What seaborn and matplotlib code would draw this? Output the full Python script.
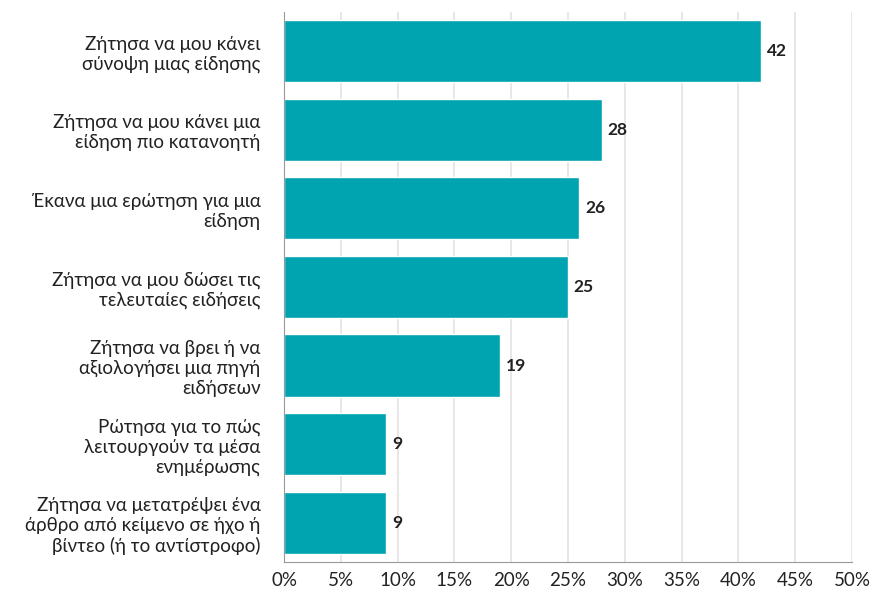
import pandas as pd
import matplotlib.pyplot as plt
import seaborn as sns
from matplotlib.ticker import PercentFormatter

# 데이터
labels = [
    "Ζήτησα να μου κάνει\nσύνοψη μιας είδησης",
    "Ζήτησα να μου κάνει μια\nείδηση πιο κατανοητή",
    "Έκανα μια ερώτηση για μια\nείδηση",
    "Ζήτησα να μου δώσει τις\nτελευταίες ειδήσεις",
    "Ζήτησα να βρει ή να\nαξιολογήσει μια πηγή\nειδήσεων",
    "Ρώτησα για το πώς\nλειτουργούν τα μέσα\nενημέρωσης",
    "Ζήτησα να μετατρέψει ένα\nάρθρο από κείμενο σε ήχο ή\nβίντεο (ή το αντίστροφο)",
]
values = [42, 28, 26, 25, 19, 9, 9]

df = pd.DataFrame({"label": labels, "value": values})

sns.set_style("white")
plt.rcParams["font.family"] = ["Lato", "DejaVu Sans"]

fig = plt.figure(figsize=(8.72, 5.91), dpi=100)
ax = fig.add_axes([0.3257, 0.049, 0.6513, 0.931])

sns.barplot(data=df, x="value", y="label", color="#00A3B0", width=0.79,
            saturation=1, ax=ax)

for i, v in enumerate(values):
    ax.text(v + 0.5, i, f"{v}", va="center", ha="left",
            fontsize=12.5, fontweight="bold", color="#222222")

ax.set_xlim(0, 50)
ax.set_ylim(6.5, -0.5)
ax.set_xticks(range(0, 51, 5))
ax.xaxis.set_major_formatter(PercentFormatter(decimals=0))
ax.grid(True, axis="x", color="#e3e3e3", linewidth=1.2)
ax.set_axisbelow(True)
ax.set_xlabel("")
ax.set_ylabel("")

for s in ["top", "right"]:
    ax.spines[s].set_visible(False)
ax.spines["left"].set_color("#999999")
ax.spines["bottom"].set_color("#999999")

ax.tick_params(axis="y", length=0, pad=17, labelsize=13.5, colors="#222222")
ax.tick_params(axis="x", length=0, pad=7, labelsize=13.5, colors="#222222")
for t in ax.get_yticklabels():
    t.set_horizontalalignment("right")
    t.set_multialignment("right")

fig.savefig("out.png", dpi=100)
